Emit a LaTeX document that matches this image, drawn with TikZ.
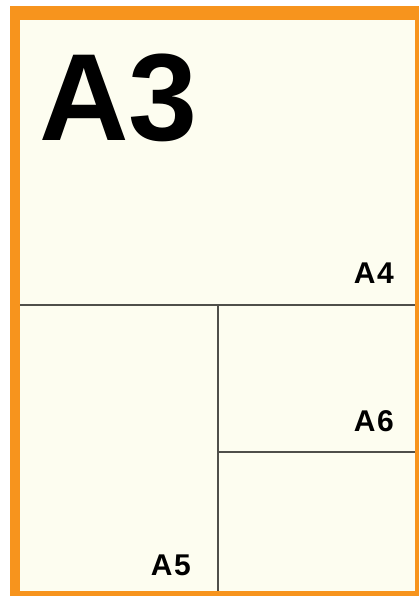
\documentclass[tikz,border=0pt]{standalone}
\usepackage{fontspec}
\setmainfont{Liberation Sans}
\usetikzlibrary{positioning}
\definecolor{sheetorange}{HTML}{F7941D}
\definecolor{sheetcream}{HTML}{FDFDF0}
\definecolor{foldgray}{HTML}{4F4F4A}

\begin{document}
\begin{tikzpicture}[
  x=1pt, y=-1pt,
  sheetlabel/.style={
    inner sep=0pt, font=\fontsize{30}{30}\selectfont\bfseries\addfontfeature{LetterSpace=5},
  },
  sheettitle/.style={
    inner sep=0pt, font=\fontsize{124}{124}\selectfont\bfseries,
  },
  foldline/.style={
    draw=foldgray, line width=2.5pt,
  },
]
\useasboundingbox (0,0) rectangle (419,596);
% sheet with frame
\fill[sheetorange] (10,6) rectangle (419,596);
\fill[sheetcream] (20,20) rectangle (415,591);
\coordinate (cutL) at (20,305);
\coordinate (cutR) at (415,305);
\coordinate (midT) at (218,305);
\coordinate (midB) at (218,591);
\coordinate (sixL) at (218,452);
\coordinate (sixR) at (415,452);
\draw[foldline] (cutL) -- (cutR);
\draw[foldline] (midT) -- (midB);
\draw[foldline] (sixL) -- (sixR);
% labels
\node[sheettitle, anchor=base west] (sizeA3) at (39,141) {A3};
\node[sheetlabel, anchor=base east] (sizeA4) at (394,283) {A4};
\node[sheetlabel, anchor=base east] (sizeA6) at (394,431) {A6};
\node[sheetlabel, anchor=base east] (sizeA5) at (191,575) {A5};
\end{tikzpicture}
\end{document}
